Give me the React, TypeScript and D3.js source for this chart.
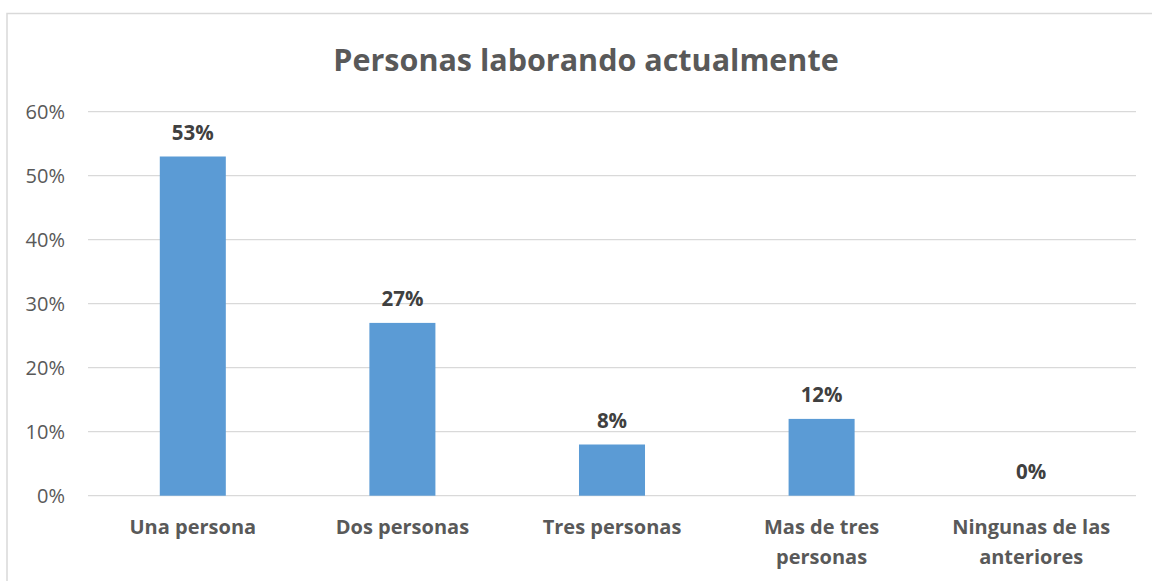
import React, { useEffect, useRef } from "react";
import * as d3 from "d3";

const title = "Personas laborando actualmente";
const categories: string[][] = [
  ["Una persona"],
  ["Dos personas"],
  ["Tres personas"],
  ["Mas de tres", "personas"],
  ["Ningunas de las", "anteriores"],
];
const values = [0.53, 0.27, 0.08, 0.12, 0.0];
const yTicks = [0, 0.1, 0.2, 0.3, 0.4, 0.5, 0.6];

const W = 1152;
const H = 581;
const FONT = "'Open Sans', sans-serif";

export default function App() {
  const ref = useRef<SVGSVGElement>(null);
  useEffect(() => {
    const svg = d3.select(ref.current!);
    svg.selectAll("*").remove();

    const x0 = 88, x1 = 1136, yTop = 111.7, yBot = 495.7;
    const x = d3.scaleBand<number>().domain(d3.range(categories.length)).range([x0, x1]).paddingInner(0.685).paddingOuter(0.3425);
    const y = d3.scaleLinear().domain([0, 0.6]).range([yBot, yTop]);

    svg.append("rect").attr("x", 7).attr("y", 13.5).attr("width", W + 10).attr("height", H + 10)
      .attr("fill", "#fff").attr("stroke", "#d9d9d9").attr("stroke-width", 1.5);

    svg.append("text").attr("x", 586).attr("y", 71).attr("text-anchor", "middle")
      .attr("font-family", FONT).attr("font-weight", 700).attr("font-size", 30.5).attr("fill", "#595959").text(title);

    const g = svg.append("g");
    g.selectAll("line.grid").data(yTicks).join("line")
      .attr("x1", x0).attr("x2", x1).attr("y1", d => y(d)).attr("y2", d => y(d))
      .attr("stroke", "#d9d9d9").attr("stroke-width", 1.3);

    g.selectAll("text.ytick").data(yTicks).join("text")
      .attr("x", 65).attr("y", d => y(d) + 7).attr("text-anchor", "end")
      .attr("font-family", FONT).attr("font-size", 20).attr("fill", "#595959")
      .text(d => d3.format(".0%")(d));

    g.selectAll("rect.bar").data(values).join("rect")
      .attr("x", (_, i) => x(i)!).attr("width", x.bandwidth())
      .attr("y", d => y(d)).attr("height", d => yBot - y(d)).attr("fill", "#5b9bd5");

    g.selectAll("text.lbl").data(values).join("text")
      .attr("x", (_, i) => x(i)! + x.bandwidth() / 2).attr("y", d => y(d) - 17)
      .attr("text-anchor", "middle").attr("font-family", FONT).attr("font-weight", 700)
      .attr("font-size", 20.5).attr("fill", "#404040")
      .text(d => d3.format(".0%")(d));

    categories.forEach((lines, i) => {
      const t = g.append("text").attr("text-anchor", "middle").attr("font-family", FONT)
        .attr("font-weight", 700).attr("font-size", 20).attr("fill", "#595959");
      lines.forEach((ln, j) => {
        t.append("tspan").attr("x", x(i)! + x.bandwidth() / 2).attr("y", 534 + j * 30).text(ln);
      });
    });
  }, []);
  return <svg ref={ref} width={W} height={H} style={{ display: "block", position: "absolute", left: 0, top: 0 }} />;
}
